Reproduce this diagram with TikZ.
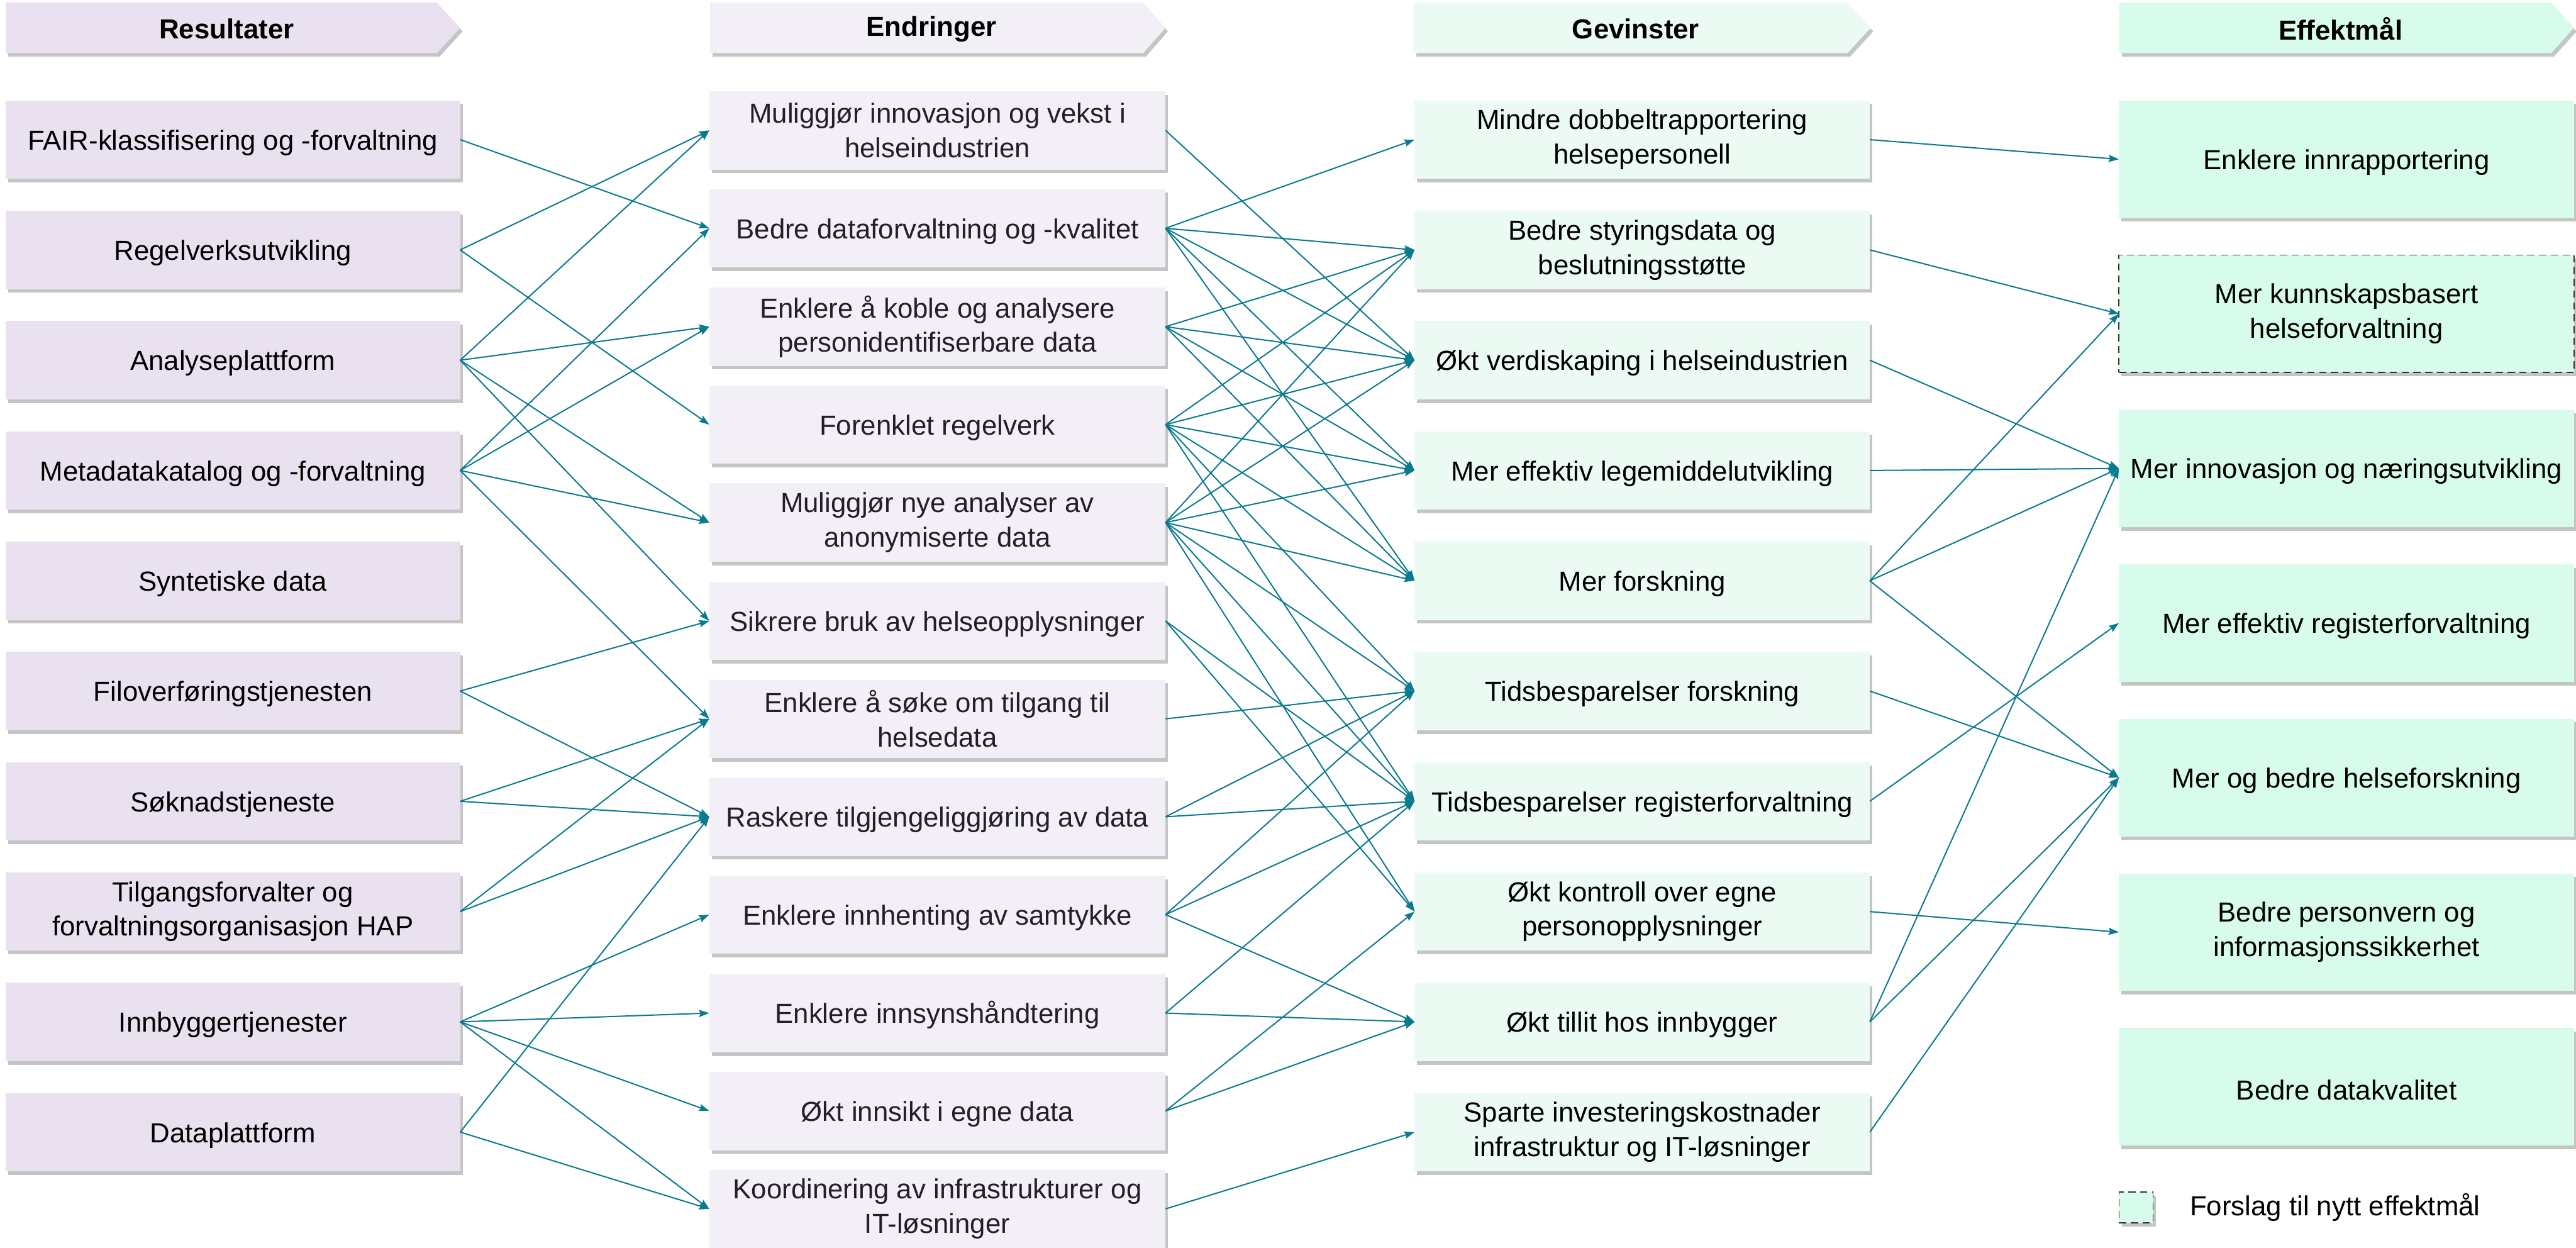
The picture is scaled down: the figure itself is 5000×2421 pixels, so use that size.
\documentclass[tikz,border=0pt]{standalone}
\usepackage{fontspec}
\setmainfont{Liberation Sans}
\usetikzlibrary{arrows.meta,shadows,positioning}

\definecolor{resfill}{RGB}{233,225,239}
\definecolor{endfill}{RGB}{242,239,246}
\definecolor{gevfill}{RGB}{235,251,244}
\definecolor{efffill}{RGB}{216,252,235}
\definecolor{endtext}{RGB}{35,30,45}
\definecolor{pilfarge}{RGB}{10,122,142}

\begin{document}
\begin{tikzpicture}[x=0.01cm,y=-0.01cm,
    every node/.style={font=\fontsize{15.2}{19}\selectfont},
    skygge/.style={drop shadow={shadow xshift=0.05cm,shadow yshift=-0.07cm,opacity=0.5,fill=black!45}},
    boks/.style={skygge,inner sep=0pt,outer sep=0pt,align=center,minimum height=1.52cm,
      execute at begin node={\rule{0pt}{14.4pt}}},
    resboks/.style={boks,fill=resfill,minimum width=8.82cm},
    endboks/.style={boks,fill=endfill,text=endtext,minimum width=8.85cm},
    gevboks/.style={boks,fill=gevfill,minimum width=8.83cm},
    effboks/.style={boks,fill=efffill,minimum width=8.83cm,minimum height=2.28cm},
    forslag/.style={draw=black!80,line width=0.6pt,dash pattern=on 4pt off 2.5pt},
    overskrift/.style={font=\fontsize{15.2}{19}\selectfont\bfseries},
    pil/.style={draw=pilfarge,line width=0.7pt,-{Stealth[length=0.2cm,width=0.14cm,inset=0.03cm]}}]
\useasboundingbox (0,0) rectangle (5000,2421);

% overskrifter
\path[skygge,fill=resfill] (11,5) -- (848,5) -- (893,54) -- (848,103) -- (11,103) -- cycle;
\path[skygge,fill=endfill] (1378,5) -- (2219,5) -- (2262,54) -- (2219,103) -- (1378,103) -- cycle;
\path[skygge,fill=gevfill] (2744,5) -- (3586,5) -- (3631,54) -- (3586,103) -- (2744,103) -- cycle;
\path[skygge,fill=efffill] (4113,5) -- (4952,5) -- (4996,54) -- (4952,103) -- (4113,103) -- cycle;
\node[overskrift] (hres) at (440,56) {Resultater};
\node[overskrift] (hend) at (1808,56) {Endringer};
\node[overskrift] (hgev) at (3175,56) {Gevinster};
\node[overskrift] (heff) at (4543,56) {Effektmål};

% Resultater
\node[resboks] (res1) at (452,271) {FAIR-klassifisering og -forvaltning};
\node[resboks] (res2) at (452,485) {Regelverksutvikling};
\node[resboks] (res3) at (452,699) {Analyseplattform};
\node[resboks] (res4) at (452,913) {Metadatakatalog og -forvaltning};
\node[resboks] (res5) at (452,1127) {Syntetiske data};
\node[resboks] (res6) at (452,1341) {Filoverføringstjenesten};
\node[resboks] (res7) at (452,1555) {Søknadstjeneste};
\node[resboks] (res8) at (452,1769) {Tilgangsforvalter og\\forvaltningsorganisasjon HAP};
\node[resboks] (res9) at (452,1983) {Innbyggertjenester};
\node[resboks] (res10) at (452,2197) {Dataplattform};

% Endringer
\node[endboks] (end1) at (1819.5,253) {Muliggjør innovasjon og vekst i\\helseindustrien};
\node[endboks] (end2) at (1819.5,443) {Bedre dataforvaltning og -kvalitet};
\node[endboks] (end3) at (1819.5,634) {Enklere å koble og analysere\\personidentifiserbare data};
\node[endboks] (end4) at (1819.5,824) {Forenklet regelverk};
\node[endboks] (end5) at (1819.5,1014) {Muliggjør nye analyser av\\anonymiserte data};
\node[endboks] (end6) at (1819.5,1205) {Sikrere bruk av helseopplysninger};
\node[endboks] (end7) at (1819.5,1395) {Enklere å søke om tilgang til\\helsedata};
\node[endboks] (end8) at (1819.5,1585) {Raskere tilgjengeliggjøring av data};
\node[endboks] (end9) at (1819.5,1775) {Enklere innhenting av samtykke};
\node[endboks] (end10) at (1819.5,1966) {Enklere innsynshåndtering};
\node[endboks] (end11) at (1819.5,2156) {Økt innsikt i egne data};
\node[endboks] (end12) at (1819.5,2346) {Koordinering av infrastrukturer og\\IT-løsninger};

% Gevinster
\node[gevboks] (gev1) at (3187.5,271) {Mindre dobbeltrapportering\\helsepersonell};
\node[gevboks] (gev2) at (3187.5,485) {Bedre styringsdata og\\beslutningsstøtte};
\node[gevboks] (gev3) at (3187.5,699) {Økt verdiskaping i helseindustrien};
\node[gevboks] (gev4) at (3187.5,913) {Mer effektiv legemiddelutvikling};
\node[gevboks] (gev5) at (3187.5,1127) {Mer forskning};
\node[gevboks] (gev6) at (3187.5,1341) {Tidsbesparelser forskning};
\node[gevboks] (gev7) at (3187.5,1555) {Tidsbesparelser registerforvaltning};
\node[gevboks] (gev8) at (3187.5,1769) {Økt kontroll over egne\\personopplysninger};
\node[gevboks] (gev9) at (3187.5,1983) {Økt tillit hos innbygger};
\node[gevboks] (gev10) at (3187.5,2197) {Sparte investeringskostnader\\infrastruktur og IT-løsninger};

% Effektmål
\node[effboks] (eff1) at (4554.5,309) {Enklere innrapportering};
\node[effboks,forslag] (eff2) at (4554.5,609) {Mer kunnskapsbasert\\helseforvaltning};
\node[effboks] (eff3) at (4554.5,909) {Mer innovasjon og næringsutvikling};
\node[effboks] (eff4) at (4554.5,1209) {Mer effektiv registerforvaltning};
\node[effboks] (eff5) at (4554.5,1509) {Mer og bedre helseforskning};
\node[effboks] (eff6) at (4554.5,1809) {Bedre personvern og\\informasjonssikkerhet};
\node[effboks] (eff7) at (4554.5,2109) {Bedre datakvalitet};

% forklaring
\node[skygge,forslag,fill=efffill,inner sep=0pt,minimum width=0.66cm,minimum height=0.6cm] (leg) at (4146,2343) {};
\node[right=0.58cm of leg] (legtekst) {Forslag til nytt effektmål};

% Resultater -> Endringer
\draw[pil] (res1.east) -- (end2.west);
\draw[pil] (res2.east) -- (end1.west);
\draw[pil] (res2.east) -- (end4.west);
\draw[pil] (res3.east) -- (end1.west);
\draw[pil] (res3.east) -- (end3.west);
\draw[pil] (res3.east) -- (end5.west);
\draw[pil] (res3.east) -- (end6.west);
\draw[pil] (res4.east) -- (end2.west);
\draw[pil] (res4.east) -- (end3.west);
\draw[pil] (res4.east) -- (end5.west);
\draw[pil] (res4.east) -- (end7.west);
\draw[pil] (res6.east) -- (end6.west);
\draw[pil] (res6.east) -- (end8.west);
\draw[pil] (res7.east) -- (end7.west);
\draw[pil] (res7.east) -- (end8.west);
\draw[pil] (res8.east) -- (end7.west);
\draw[pil] (res8.east) -- (end8.west);
\draw[pil] (res9.east) -- (end9.west);
\draw[pil] (res9.east) -- (end10.west);
\draw[pil] (res9.east) -- (end11.west);
\draw[pil] (res9.east) -- (end12.west);
\draw[pil] (res10.east) -- (end8.west);
\draw[pil] (res10.east) -- (end12.west);

% Endringer -> Gevinster
\draw[pil] (end1.east) -- (gev3.west);
\draw[pil] (end2.east) -- (gev1.west);
\draw[pil] (end2.east) -- (gev2.west);
\draw[pil] (end2.east) -- (gev3.west);
\draw[pil] (end2.east) -- (gev4.west);
\draw[pil] (end2.east) -- (gev5.west);
\draw[pil] (end3.east) -- (gev2.west);
\draw[pil] (end3.east) -- (gev3.west);
\draw[pil] (end3.east) -- (gev4.west);
\draw[pil] (end3.east) -- (gev5.west);
\draw[pil] (end4.east) -- (gev2.west);
\draw[pil] (end4.east) -- (gev3.west);
\draw[pil] (end4.east) -- (gev4.west);
\draw[pil] (end4.east) -- (gev5.west);
\draw[pil] (end4.east) -- (gev6.west);
\draw[pil] (end4.east) -- (gev7.west);
\draw[pil] (end5.east) -- (gev2.west);
\draw[pil] (end5.east) -- (gev3.west);
\draw[pil] (end5.east) -- (gev4.west);
\draw[pil] (end5.east) -- (gev5.west);
\draw[pil] (end5.east) -- (gev6.west);
\draw[pil] (end5.east) -- (gev7.west);
\draw[pil] (end5.east) -- (gev8.west);
\draw[pil] (end6.east) -- (gev7.west);
\draw[pil] (end6.east) -- (gev8.west);
\draw[pil] (end7.east) -- (gev6.west);
\draw[pil] (end8.east) -- (gev6.west);
\draw[pil] (end8.east) -- (gev7.west);
\draw[pil] (end9.east) -- (gev6.west);
\draw[pil] (end9.east) -- (gev7.west);
\draw[pil] (end9.east) -- (gev9.west);
\draw[pil] (end10.east) -- (gev7.west);
\draw[pil] (end10.east) -- (gev9.west);
\draw[pil] (end11.east) -- (gev8.west);
\draw[pil] (end11.east) -- (gev9.west);
\draw[pil] (end12.east) -- (gev10.west);

% Gevinster -> Effektmål
\draw[pil] (gev1.east) -- (eff1.west);
\draw[pil] (gev2.east) -- (eff2.west);
\draw[pil] (gev3.east) -- (eff3.west);
\draw[pil] (gev4.east) -- (eff3.west);
\draw[pil] (gev5.east) -- (eff2.west);
\draw[pil] (gev5.east) -- (eff3.west);
\draw[pil] (gev5.east) -- (eff5.west);
\draw[pil] (gev6.east) -- (eff5.west);
\draw[pil] (gev7.east) -- (eff4.west);
\draw[pil] (gev8.east) -- (eff6.west);
\draw[pil] (gev9.east) -- (eff3.west);
\draw[pil] (gev9.east) -- (eff5.west);
\draw[pil] (gev10.east) -- (eff5.west);
\end{tikzpicture}
\end{document}
